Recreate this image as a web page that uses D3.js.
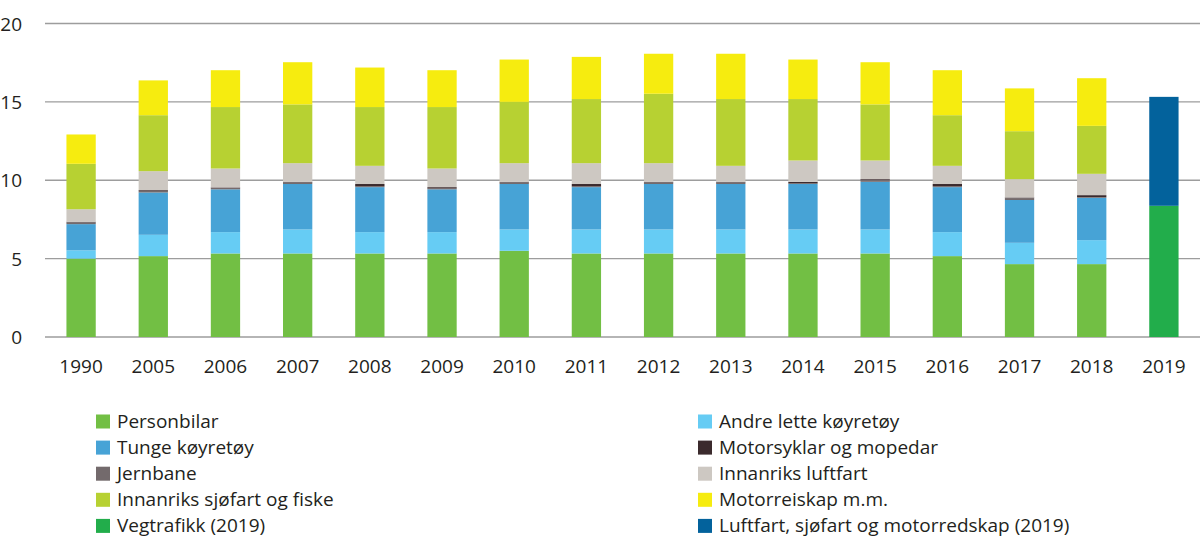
<!DOCTYPE html>
<html><head><meta charset="utf-8">
<script src="https://cdn.jsdelivr.net/npm/d3@7"></script>
<style>
html,body{margin:0;padding:0;background:#fff;}
text{font-family:"Open Sans","Noto Sans",sans-serif;fill:#231f20;}
</style></head>
<body><svg id="c" width="1200" height="558"></svg>
<script>
const years = ["1990","2005","2006","2007","2008","2009","2010","2011","2012","2013","2014","2015","2016","2017","2018","2019"];
const personbilar = [5.0,5.16,5.33,5.33,5.33,5.33,5.5,5.33,5.33,5.33,5.33,5.33,5.16,4.65,4.65,0];
const andreLette  = [0.53,1.36,1.36,1.53,1.36,1.36,1.36,1.53,1.53,1.53,1.53,1.53,1.53,1.36,1.53,0];
const tunge       = [1.67,2.70,2.73,2.90,2.87,2.73,2.90,2.70,2.90,2.90,2.90,3.04,2.87,2.73,2.70,0];
const jernbane    = [0.12,0.10,0.05,0.10,0.06,0.05,0.10,0.06,0.10,0.10,0.05,0.12,0.06,0.12,0.05,0];
const motorsyklar = [0.03,0.05,0.07,0.04,0.14,0.09,0.04,0.14,0.04,0.04,0.09,0.05,0.14,0.04,0.12,0];
const luftfart    = [0.80,1.21,1.21,1.19,1.16,1.19,1.19,1.33,1.19,1.02,1.36,1.19,1.16,1.17,1.36,0];
const sjofart     = [2.90,3.57,3.92,3.75,3.75,3.92,3.91,4.09,4.43,4.26,3.92,3.58,3.23,3.06,3.06,0];
const motorreiskap= [1.87,2.22,2.35,2.69,2.52,2.35,2.70,2.69,2.55,2.89,2.52,2.69,2.87,2.73,3.04,0];
const vegtrafikk2019 = [0,0,0,0,0,0,0,0,0,0,0,0,0,0,0,8.37];
const luftSjoMotor2019 = [0,0,0,0,0,0,0,0,0,0,0,0,0,0,0,6.95];
const yTicks = [0,5,10,15,20];

const series = [
  {key:"personbilar", name:"Personbilar", values:personbilar, color:"#72bf44"},
  {key:"andreLette", name:"Andre lette køyretøy", values:andreLette, color:"#66ccf4"},
  {key:"tunge", name:"Tunge køyretøy", values:tunge, color:"#47a3d6"},
  {key:"jernbane", name:"Jernbane", values:jernbane, color:"#736a6c"},
  {key:"motorsyklar", name:"Motorsyklar og mopedar", values:motorsyklar, color:"#3b2a2d"},
  {key:"luftfart", name:"Innanriks luftfart", values:luftfart, color:"#cdc8c2"},
  {key:"sjofart", name:"Innanriks sjøfart og fiske", values:sjofart, color:"#b7d132"},
  {key:"motorreiskap", name:"Motorreiskap m.m.", values:motorreiskap, color:"#f6ec0f"},
  {key:"veg2019", name:"Vegtrafikk (2019)", values:vegtrafikk2019, color:"#22ad4b"},
  {key:"luft2019", name:"Luftfart, sjøfart og motorredskap (2019)", values:luftSjoMotor2019, color:"#03629c"}
];
// legend order (two columns, row-wise)
const legendLeft = ["personbilar","tunge","jernbane","sjofart","veg2019"];
const legendRight = ["andreLette","motorsyklar","luftfart","motorreiskap","luft2019"];

const rows = years.map((y,i)=>{const r={year:y}; series.forEach(s=>r[s.key]=s.values[i]); return r;});
const stack = d3.stack().keys(series.map(s=>s.key))(rows);

const svg = d3.select("#c");
const x = d3.scaleBand().domain(years).range([45,1200]).paddingInner(0.594).paddingOuter(0.297);
const y = d3.scaleLinear().domain([0,20]).range([337,23.5]);

// grid
svg.append("g").selectAll("line").data(yTicks).join("line")
  .attr("x1",45).attr("x2",1200).attr("y1",d=>y(d)).attr("y2",d=>y(d))
  .attr("stroke","#9d9d9d").attr("stroke-width",1.4);
svg.append("g").selectAll("text").data(yTicks).join("text")
  .attr("x",22).attr("y",d=>y(d)+2).attr("text-anchor","end").attr("dominant-baseline","middle")
  .attr("font-size",19).text(d=>d);

// bars
const colorOf = Object.fromEntries(series.map(s=>[s.key,s.color]));
svg.append("g").selectAll("g").data(stack).join("g")
  .attr("fill",d=>colorOf[d.key])
  .selectAll("rect").data(d=>d.filter(p=>p[1]-p[0]>0)).join("rect")
  .attr("x",d=>x(d.data.year)).attr("width",x.bandwidth())
  .attr("y",d=>y(d[1])).attr("height",d=>y(d[0])-y(d[1]));

// x labels
svg.append("g").selectAll("text").data(years).join("text")
  .attr("x",d=>x(d)+x.bandwidth()/2).attr("y",368).attr("text-anchor","middle")
  .attr("dominant-baseline","middle").attr("font-size",19).text(d=>d);

// legend
function legendCol(keys, sx, tx){
  const g = svg.append("g");
  keys.forEach((k,i)=>{
    const s = series.find(q=>q.key===k);
    const cy = 421.5 + i*26.1;
    g.append("rect").attr("x",sx).attr("y",cy-7).attr("width",14).attr("height",14).attr("fill",s.color);
    g.append("text").attr("x",tx).attr("y",cy+1).attr("dominant-baseline","middle")
      .attr("font-size",19).text(s.name);
  });
}
legendCol(legendLeft, 96, 117);
legendCol(legendRight, 698, 719);
</script></body></html>
